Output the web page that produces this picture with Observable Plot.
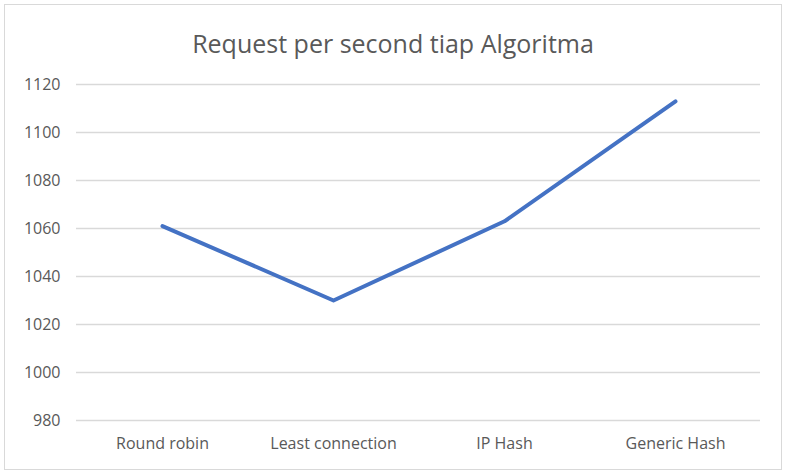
<!DOCTYPE html>
<html>
<head>
<meta charset="utf-8">
<script src="https://cdn.jsdelivr.net/npm/d3@7"></script>
<script src="https://cdn.jsdelivr.net/npm/@observablehq/plot@0.6"></script>
<style>
  html, body { margin: 0; padding: 0; background: #fff; }
  #frame { position: absolute; left: 4px; top: 4px; width: 778px; height: 466px; box-sizing: border-box; border: 1px solid #d9d9d9; }
  #title { position: absolute; left: 0; top: 26px; width: 786px; text-align: center; font-family: "Open Sans", sans-serif; font-size: 25px; line-height: 34px; color: #595959; }
  #chart { position: absolute; left: 0; top: 60px; }
</style>
</head>
<body>
<div id="frame"></div>
<div id="title">Request per second tiap Algoritma</div>
<div id="chart"></div>
<script>
const categories = ["Round robin", "Least connection", "IP Hash", "Generic Hash"];
const values = [1061, 1030, 1063, 1113];
const yTicks = [980, 1000, 1020, 1040, 1060, 1080, 1100, 1120];

const data = categories.map((c, i) => ({category: c, value: values[i]}));

const plot = Plot.plot({
  width: 786,
  height: 410,
  marginTop: 24,
  marginBottom: 50,
  marginLeft: 76,
  marginRight: 26,
  style: { fontFamily: "Open Sans, sans-serif", fontSize: "16px", color: "#595959", background: "transparent" },
  x: { type: "point", domain: categories, padding: 0.5, label: null, tickSize: 0, tickPadding: 17 },
  y: { domain: [980, 1120], ticks: yTicks, tickFormat: d => String(d), label: null, tickSize: 0, tickPadding: 16 },
  marks: [
    Plot.gridY(yTicks, { stroke: "#d9d9d9", strokeOpacity: 1, strokeWidth: 1.5 }),
    Plot.lineY(data, { x: "category", y: "value", stroke: "#4472c4", strokeWidth: 4, strokeLinecap: "round", strokeLinejoin: "round" })
  ]
});
document.getElementById("chart").appendChild(plot);
</script>
</body>
</html>
